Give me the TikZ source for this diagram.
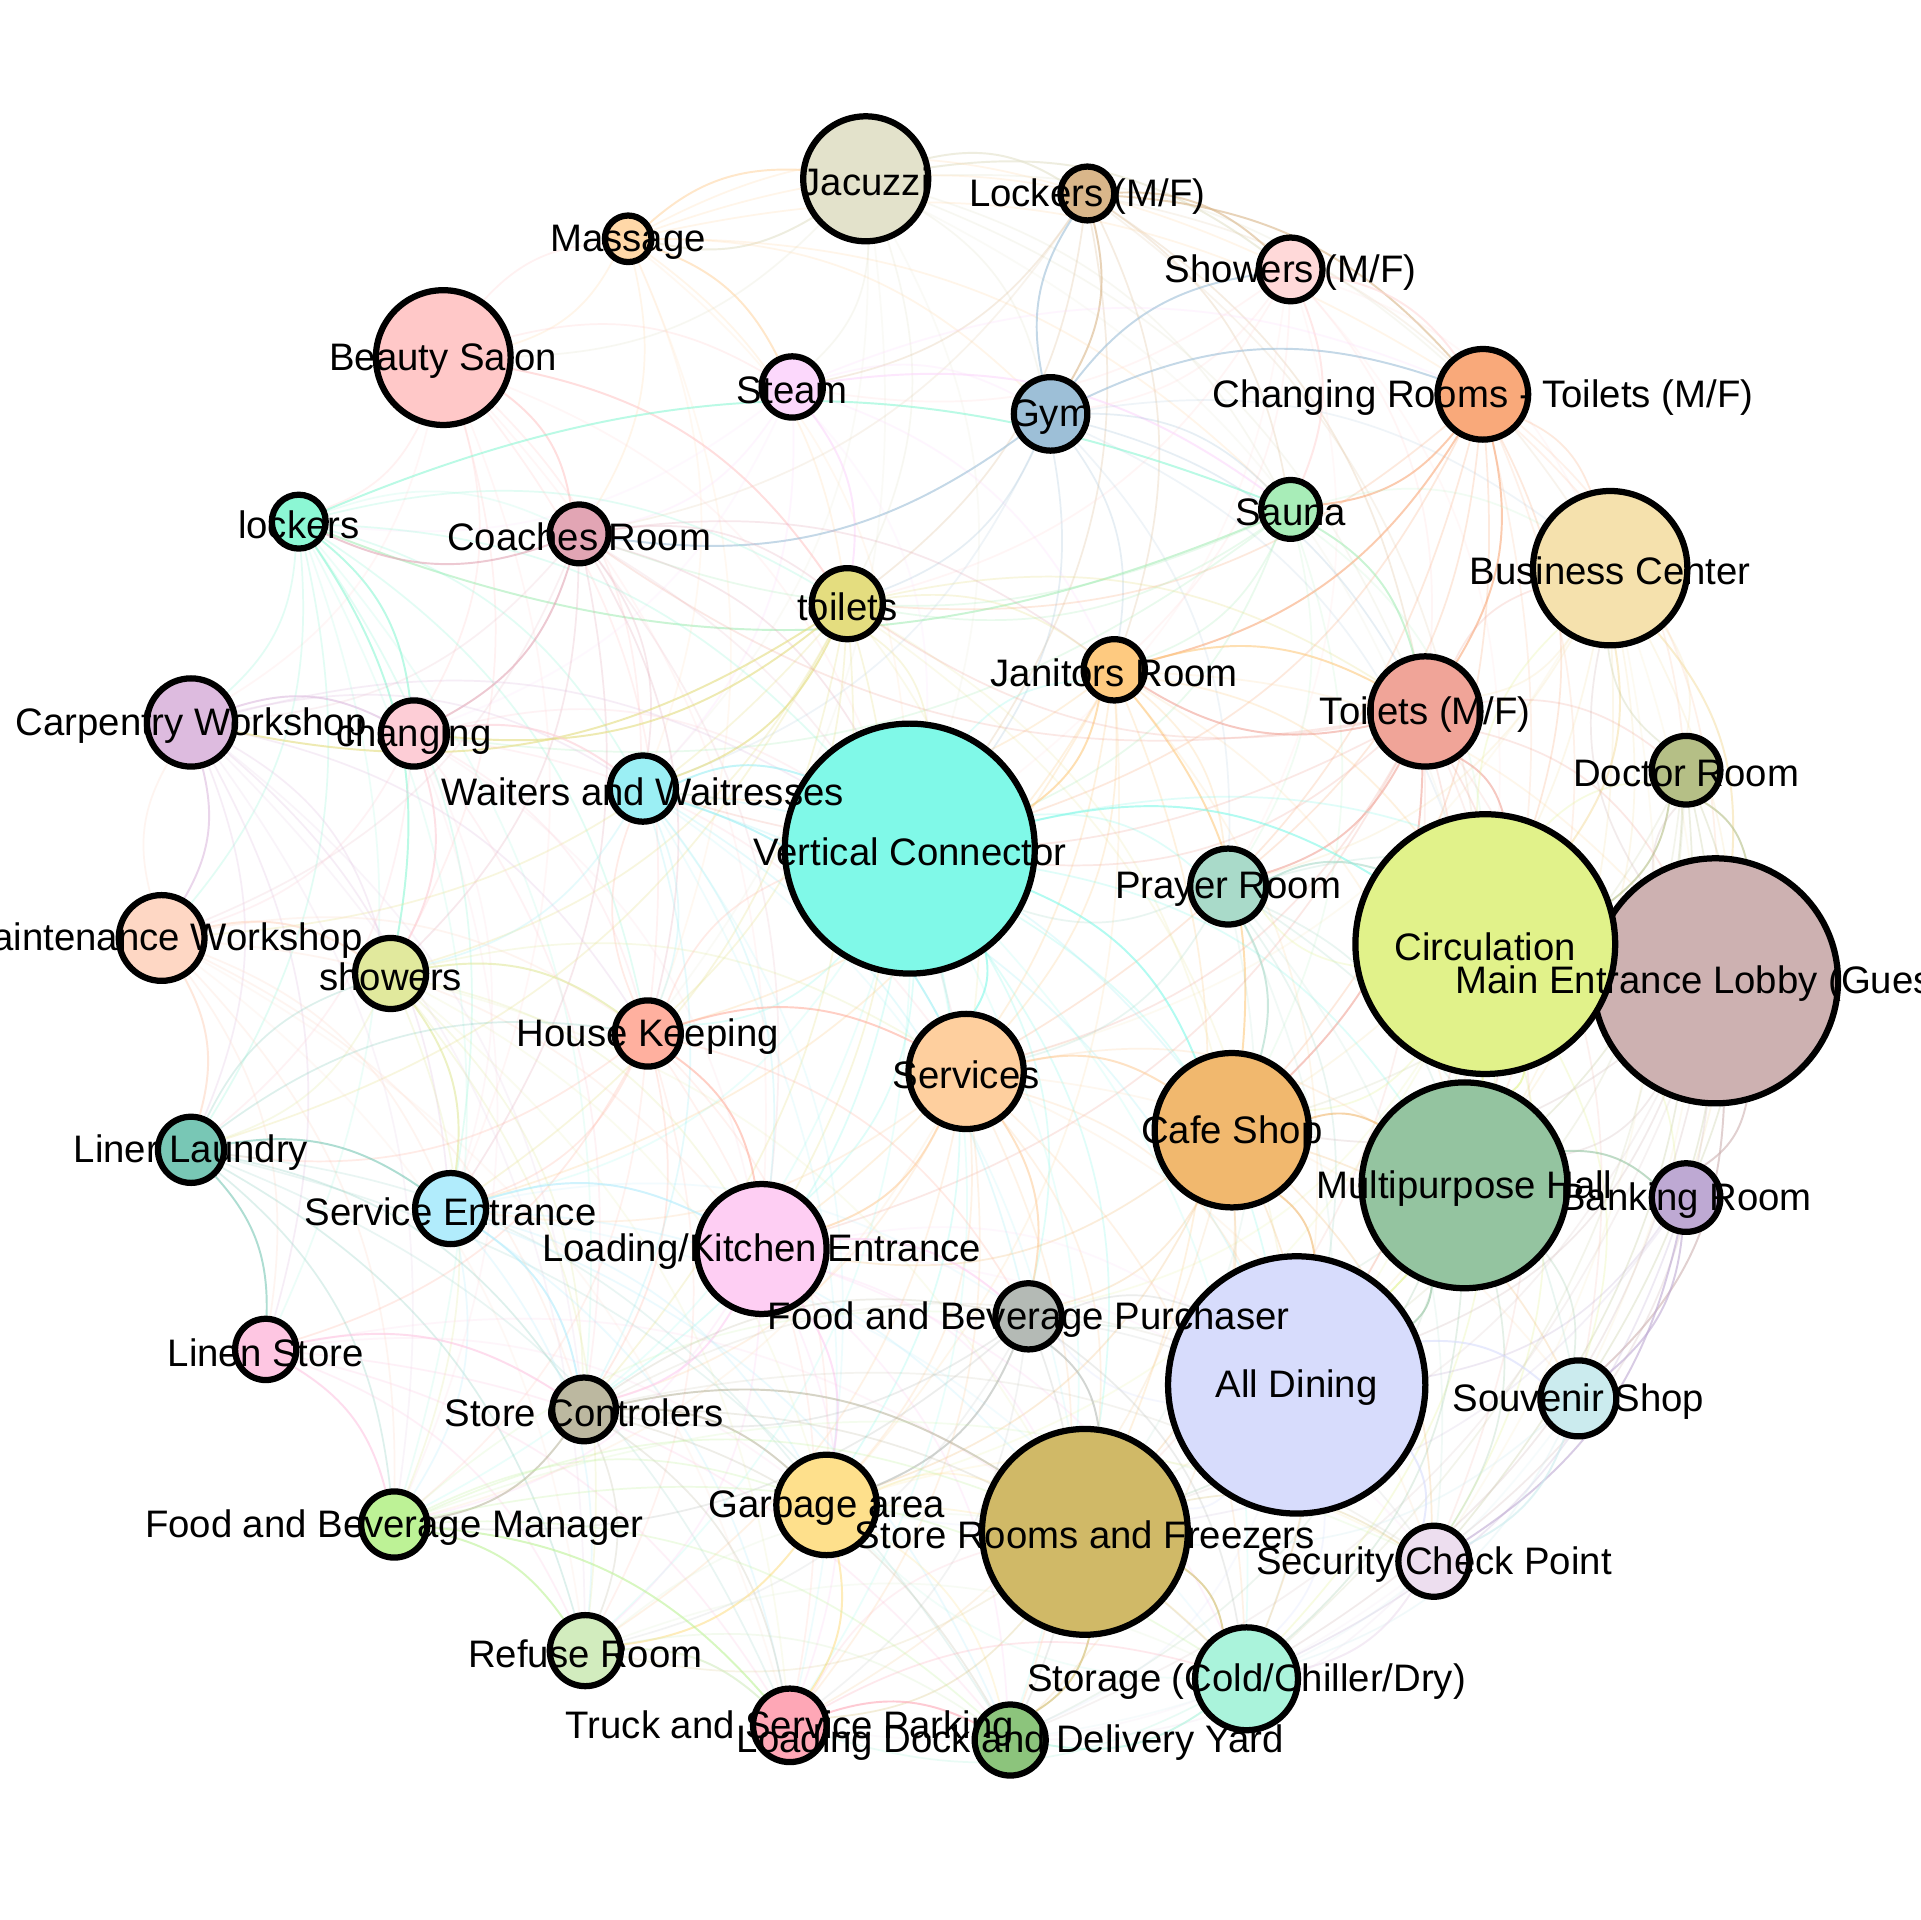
\documentclass[tikz,border=0pt]{standalone}
\usepackage{fontspec}
\setmainfont{Liberation Sans}
\usetikzlibrary{backgrounds}
\definecolor{cjac}{HTML}{E3E2CB}
\definecolor{clmf}{HTML}{D9B68A}
\definecolor{cmas}{HTML}{FFD8A8}
\definecolor{csmf}{HTML}{FFD9D9}
\definecolor{cbea}{HTML}{FFC8C8}
\definecolor{cste}{HTML}{FCD8FC}
\definecolor{cgym}{HTML}{9DBFD7}
\definecolor{ccrt}{HTML}{F9A97A}
\definecolor{csau}{HTML}{A8EDB8}
\definecolor{clck}{HTML}{8CF7D4}
\definecolor{ccoa}{HTML}{E2A5B4}
\definecolor{cbus}{HTML}{F5E1AD}
\definecolor{ctoi}{HTML}{E4DD7F}
\definecolor{cjan}{HTML}{FECA80}
\definecolor{ccar}{HTML}{DDBBDF}
\definecolor{cchg}{HTML}{FDCDD6}
\definecolor{ctmf}{HTML}{F0A498}
\definecolor{cdoc}{HTML}{B5BF86}
\definecolor{cwai}{HTML}{9BEFF4}
\definecolor{cvc}{HTML}{80F9E8}
\definecolor{cpra}{HTML}{A9DAC9}
\definecolor{ccir}{HTML}{E1F28A}
\definecolor{clob}{HTML}{CDB1B1}
\definecolor{cmai}{HTML}{FED7C4}
\definecolor{csho}{HTML}{E1E99D}
\definecolor{chk}{HTML}{FFB09F}
\definecolor{cser}{HTML}{FECF9E}
\definecolor{ccaf}{HTML}{F1B86E}
\definecolor{clin}{HTML}{78C7B5}
\definecolor{cmph}{HTML}{94C4A0}
\definecolor{cban}{HTML}{BEA9D3}
\definecolor{csen}{HTML}{B1ECFC}
\definecolor{clke}{HTML}{FECEF3}
\definecolor{cfbp}{HTML}{B4BAB5}
\definecolor{clst}{HTML}{FEC6E2}
\definecolor{cdin}{HTML}{D7DCFC}
\definecolor{csou}{HTML}{CBEBEE}
\definecolor{csc}{HTML}{BCB8A0}
\definecolor{cgar}{HTML}{FEE08C}
\definecolor{csrf}{HTML}{D0B967}
\definecolor{cfbm}{HTML}{BDF296}
\definecolor{csec}{HTML}{EDDEEF}
\definecolor{cref}{HTML}{D2ECBE}
\definecolor{csto}{HTML}{AAF3DB}
\definecolor{ctru}{HTML}{FEA7B6}
\definecolor{cldk}{HTML}{8CC47C}
\begin{document}
\begin{tikzpicture}[x=0.01cm,y=-0.01cm,
  room/.style={circle,draw=black,line width=1.45pt,inner sep=0pt,minimum size=#1},
  lbl/.style={font=\fontsize{8.9}{10.7}\selectfont,inner sep=0pt,text=black,yshift=-0.25mm},
  lnk/.style={line width=0.45pt,opacity=0.6,bend left=22},
  faint/.style={line width=0.4pt,opacity=0.25,bend left=22},
  vfaint/.style={line width=0.4pt,opacity=0.16,bend left=22}]
\useasboundingbox (0,0) rectangle (1568,1568);
% rooms
\node[room=10.2mm,fill=cjac] (jac) at (707,146) {};
\node[room=4.4mm,fill=clmf] (lmf) at (888,158) {};
\node[room=3.8mm,fill=cmas] (mas) at (513,195) {};
\node[room=5.2mm,fill=csmf] (smf) at (1054,220) {};
\node[room=11mm,fill=cbea] (bea) at (362,292) {};
\node[room=5mm,fill=cste] (ste) at (647,316) {};
\node[room=6mm,fill=cgym] (gym) at (858,338) {};
\node[room=7.4mm,fill=ccrt] (crt) at (1211,322) {};
\node[room=4.8mm,fill=csau] (sau) at (1054,416) {};
\node[room=4.4mm,fill=clck] (lck) at (244,426) {};
\node[room=4.8mm,fill=ccoa] (coa) at (473,436) {};
\node[room=12.6mm,fill=cbus] (bus) at (1315,464) {};
\node[room=5.8mm,fill=ctoi] (toi) at (692,493) {};
\node[room=5mm,fill=cjan] (jan) at (910,547) {};
\node[room=7.2mm,fill=ccar] (car) at (156,590) {};
\node[room=5.4mm,fill=cchg] (chg) at (338,599) {};
\node[room=9mm,fill=ctmf] (tmf) at (1164,581) {};
\node[room=5.6mm,fill=cdoc] (doc) at (1377,629) {};
\node[room=5.4mm,fill=cwai] (wai) at (525,644) {};
\node[room=20.4mm,fill=cvc] (vc) at (743,693) {};
\node[room=6.2mm,fill=cpra] (pra) at (1003,724) {};
\node[room=20mm,fill=clob] (lob) at (1401,801) {};
\node[room=21.2mm,fill=ccir] (cir) at (1213,771) {};
\node[room=7mm,fill=cmai] (mai) at (132,766) {};
\node[room=5.8mm,fill=csho] (sho) at (319,795) {};
\node[room=5.4mm,fill=chk] (hk) at (529,844) {};
\node[room=9.4mm,fill=cser] (ser) at (789,875) {};
\node[room=12.6mm,fill=ccaf] (caf) at (1006,923) {};
\node[room=5.4mm,fill=clin] (lin) at (156,939) {};
\node[room=16.8mm,fill=cmph] (mph) at (1196,968) {};
\node[room=5.6mm,fill=cban] (ban) at (1377,978) {};
\node[room=5.8mm,fill=csen] (sen) at (368,987) {};
\node[room=10.6mm,fill=clke] (lke) at (622,1020) {};
\node[room=5.4mm,fill=cfbp] (fbp) at (840,1075) {};
\node[room=5mm,fill=clst] (lst) at (217,1102) {};
\node[room=21mm,fill=cdin] (din) at (1059,1131) {};
\node[room=6.2mm,fill=csou] (sou) at (1289,1142) {};
\node[room=5.2mm,fill=csc] (sc) at (477,1151) {};
\node[room=8.2mm,fill=cgar] (gar) at (675,1229) {};
\node[room=16.8mm,fill=csrf] (srf) at (886,1251) {};
\node[room=5.4mm,fill=cfbm] (fbm) at (322,1245) {};
\node[room=5.8mm,fill=csec] (sec) at (1171,1275) {};
\node[room=5.8mm,fill=cref] (ref) at (478,1348) {};
\node[room=8.4mm,fill=csto] (sto) at (1018,1371) {};
\node[room=6mm,fill=ctru] (tru) at (645,1409) {};
\node[room=5.8mm,fill=cldk] (ldk) at (825,1421) {};
% connectors
\begin{pgfonlayer}{background}
\fill[white] (0,0) rectangle (1568,1568);
\foreach \s/\tgA/\tgB/\tgC in {
 jac/{mas,lmf,smf}/{ste,crt,gym,sau,tmf,toi,bea}/{vc,cir,hk,wai},
 lmf/{gym,smf,crt}/{sau,jan,tmf,vc,ste,toi}/{bus,cir,coa},
 mas/{ste,jac}/{lmf,crt,sau,smf,gym,bea,coa,toi}/{vc,wai,hk},
 smf/{crt,sau}/{tmf,gym,toi,jan,ste}/{bus,cir,vc,pra},
 bea/{coa,toi}/{chg,sho,wai,hk,mas,lck,ste}/{vc,car,lke,sen},
 ste/{sau,toi}/{crt,coa,jan,gym,wai}/{vc,chg,lck},
 gym/{coa,smf,crt,lmf}/{toi,jan,tmf,sau,vc}/{cir,pra,bus,wai},
 crt/{tmf,jan,sau}/{vc,toi,bus,cir,pra,caf,ser}/{lob,mph,din,doc},
 sau/{lck,tmf}/{jan,toi,chg,coa,vc}/{cir,pra,bus,caf},
 lck/{sau,chg,sho}/{car,mai,lin,wai,hk,sen,toi,vc}/{coa,lst,sc,fbm},
 coa/{lck,chg}/{toi,wai,hk,sho,vc,sen,jan}/{ser,lke,car,mai},
 bus/{cir,lob}/{tmf,doc,mph,caf,din,pra,ban}/{sou,sec,ser},
 toi/{chg,car,wai}/{mai,sho,lin,sen,vc,lke,sc,jan,tmf,hk}/{ser,caf,din},
 jan/{tmf,vc,caf}/{ser,pra,cir,hk,wai,sen,lke,srf}/{din,mph,lob,gar},
 car/{chg,mai}/{sho,lin,lst,hk,wai,sen,vc}/{fbm,sc,ref},
 chg/{sho,wai}/{mai,hk,sc,lin,vc,ser}/{lke,fbm,sen},
 tmf/{jan,pra,cir,caf}/{vc,mph,din,doc,bus,lob,ser,coa,toi,wai,lke}/{sou,sec,srf},
 doc/{lob,cir}/{mph,ban,sou,bus,sec}/{din,caf,sto},
 wai/{vc,ser}/{lke,hk,din,caf,sc,fbp,sho}/{gar,srf,tru},
 vc/{cir,ser,caf}/{lob,din,mph,pra,lke,hk,jan,sc,srf,gar,fbp}/{ldk,tru,sto,sen,fbm,ref},
 pra/{cir,caf}/{lob,mph,din,vc,ser,sou}/{srf,sec,sto},
 cir/{lob,mph,din}/{caf,ban,sou,sec,doc,bus,pra,sto}/{srf,gar,fbp},
 lob/{ban,sou}/{sec,mph,din,caf,doc,bus,sto}/{srf,ldk},
 mai/{sho,lin}/{lst,car,sen,fbm,sc,hk,lke}/{ref,tru},
 sho/{hk,sen}/{lin,sc,fbm,ref,lke,ser}/{gar,tru,srf},
 hk/{ser,lke}/{sen,lin,lst,sc,vc,wai,fbp}/{gar,tru,ref,fbm},
 ser/{caf,lke,fbp}/{gar,srf,ldk,tru,din,sto,sc,sen,ref,mph}/{sou,sec,fbm},
 caf/{din,mph}/{srf,fbp,sto,lke,gar,sec,sou}/{ldk,tru},
 lin/{lst,sen}/{fbm,hk,sc,ref,sho}/{tru,ldk,gar},
 mph/{din,ban}/{sou,sec,sto,srf}/{fbp,ldk},
 ban/{sou,sec}/{din,sto}/{srf},
 sen/{lke,sc}/{fbm,ref,gar,tru,ldk,srf}/{sto,fbp},
 lke/{fbp,sc,gar}/{srf,ldk,tru,ref,fbm,sto}/{din,sec},
 fbp/{srf,gar}/{sc,sto,fbm,ldk,din}/{tru,ref,sec},
 lst/{fbm,sc}/{ref,tru,ldk}/{gar,srf},
 din/{sou,sec}/{sto,srf,fbp}/{ldk,gar},
 sou/{sec}/{sto,srf}/{ldk},
 sc/{srf,gar,fbm}/{ref,sto,ldk,fbp,tru}/{sec,din},
 gar/{ref,tru}/{ldk,srf,sto}/{sec},
 srf/{sto,ldk}/{tru,sec}/{ref},
 fbm/{ref,tru}/{ldk,srf,gar,sto}/{sec,fbp},
 sec/{sto}/{ldk}/{tru},
 ref/{tru}/{ldk}/{sto,srf},
 sto/{ldk}/{tru}/{gar},
 tru/{ldk}/{sto}/{srf}}{
  \foreach \t in \tgA {\draw[lnk,draw=c\s] (\s) to (\t);}
  \foreach \t in \tgB {\draw[faint,draw=c\s] (\s) to (\t);}
  \foreach \t in \tgC {\draw[vfaint,draw=c\s] (\s) to (\t);}
}
\end{pgfonlayer}
% labels
\node[lbl] (jac-l) at (jac.center) {Jacuzzi};
\node[lbl] (lmf-l) at (lmf.center) {Lockers (M/F)};
\node[lbl] (mas-l) at (mas.center) {Massage};
\node[lbl] (smf-l) at (smf.center) {Showers (M/F)};
\node[lbl] (bea-l) at (bea.center) {Beauty Salon};
\node[lbl] (ste-l) at (ste.center) {Steam};
\node[lbl] (gym-l) at (gym.center) {Gym};
\node[lbl] (crt-l) at (crt.center) {Changing Rooms - Toilets (M/F)};
\node[lbl] (sau-l) at (sau.center) {Sauna};
\node[lbl] (lck-l) at (lck.center) {lockers};
\node[lbl] (coa-l) at (coa.center) {Coaches Room};
\node[lbl] (bus-l) at (bus.center) {Business Center};
\node[lbl] (toi-l) at (toi.center) {toilets};
\node[lbl] (jan-l) at (jan.center) {Janitors Room};
\node[lbl] (car-l) at (car.center) {Carpentry Workshop};
\node[lbl] (chg-l) at (chg.center) {changing};
\node[lbl] (tmf-l) at (tmf.center) {Toilets (M/F)};
\node[lbl] (doc-l) at (doc.center) {Doctor Room};
\node[lbl] (wai-l) at (wai.center) {Waiters and Waitresses};
\node[lbl] (vc-l) at (vc.center) {Vertical Connector};
\node[lbl] (pra-l) at (pra.center) {Prayer Room};
\node[lbl] (cir-l) at (cir.center) {Circulation};
\node[lbl] (lob-l) at (lob.center) {Main Entrance Lobby (Guests)};
\node[lbl] (mai-l) at (mai.center) {Maintenance Workshop};
\node[lbl] (sho-l) at (sho.center) {showers};
\node[lbl] (hk-l) at (hk.center) {House Keeping};
\node[lbl] (ser-l) at (ser.center) {Services};
\node[lbl] (caf-l) at (caf.center) {Cafe Shop};
\node[lbl] (lin-l) at (lin.center) {Liner Laundry};
\node[lbl] (mph-l) at (mph.center) {Multipurpose Hall};
\node[lbl] (ban-l) at (ban.center) {Banking Room};
\node[lbl] (sen-l) at (sen.center) {Service Entrance};
\node[lbl] (lke-l) at (lke.center) {Loading/Kitchen Entrance};
\node[lbl] (fbp-l) at (fbp.center) {Food and Beverage Purchaser};
\node[lbl] (lst-l) at (lst.center) {Linen Store};
\node[lbl] (din-l) at (din.center) {All Dining};
\node[lbl] (sou-l) at (sou.center) {Souvenir Shop};
\node[lbl] (sc-l) at (sc.center) {Store Controlers};
\node[lbl] (gar-l) at (gar.center) {Garbage area};
\node[lbl] (srf-l) at (srf.center) {Store Rooms and Freezers};
\node[lbl] (fbm-l) at (fbm.center) {Food and Beverage Manager};
\node[lbl] (sec-l) at (sec.center) {Security Check Point};
\node[lbl] (ref-l) at (ref.center) {Refuse Room};
\node[lbl] (sto-l) at (sto.center) {Storage (Cold/Chiller/Dry)};
\node[lbl] (tru-l) at (tru.center) {Truck and Service Parking};
\node[lbl] (ldk-l) at (ldk.center) {Loading Dock and Delivery Yard};
\end{tikzpicture}
\end{document}
